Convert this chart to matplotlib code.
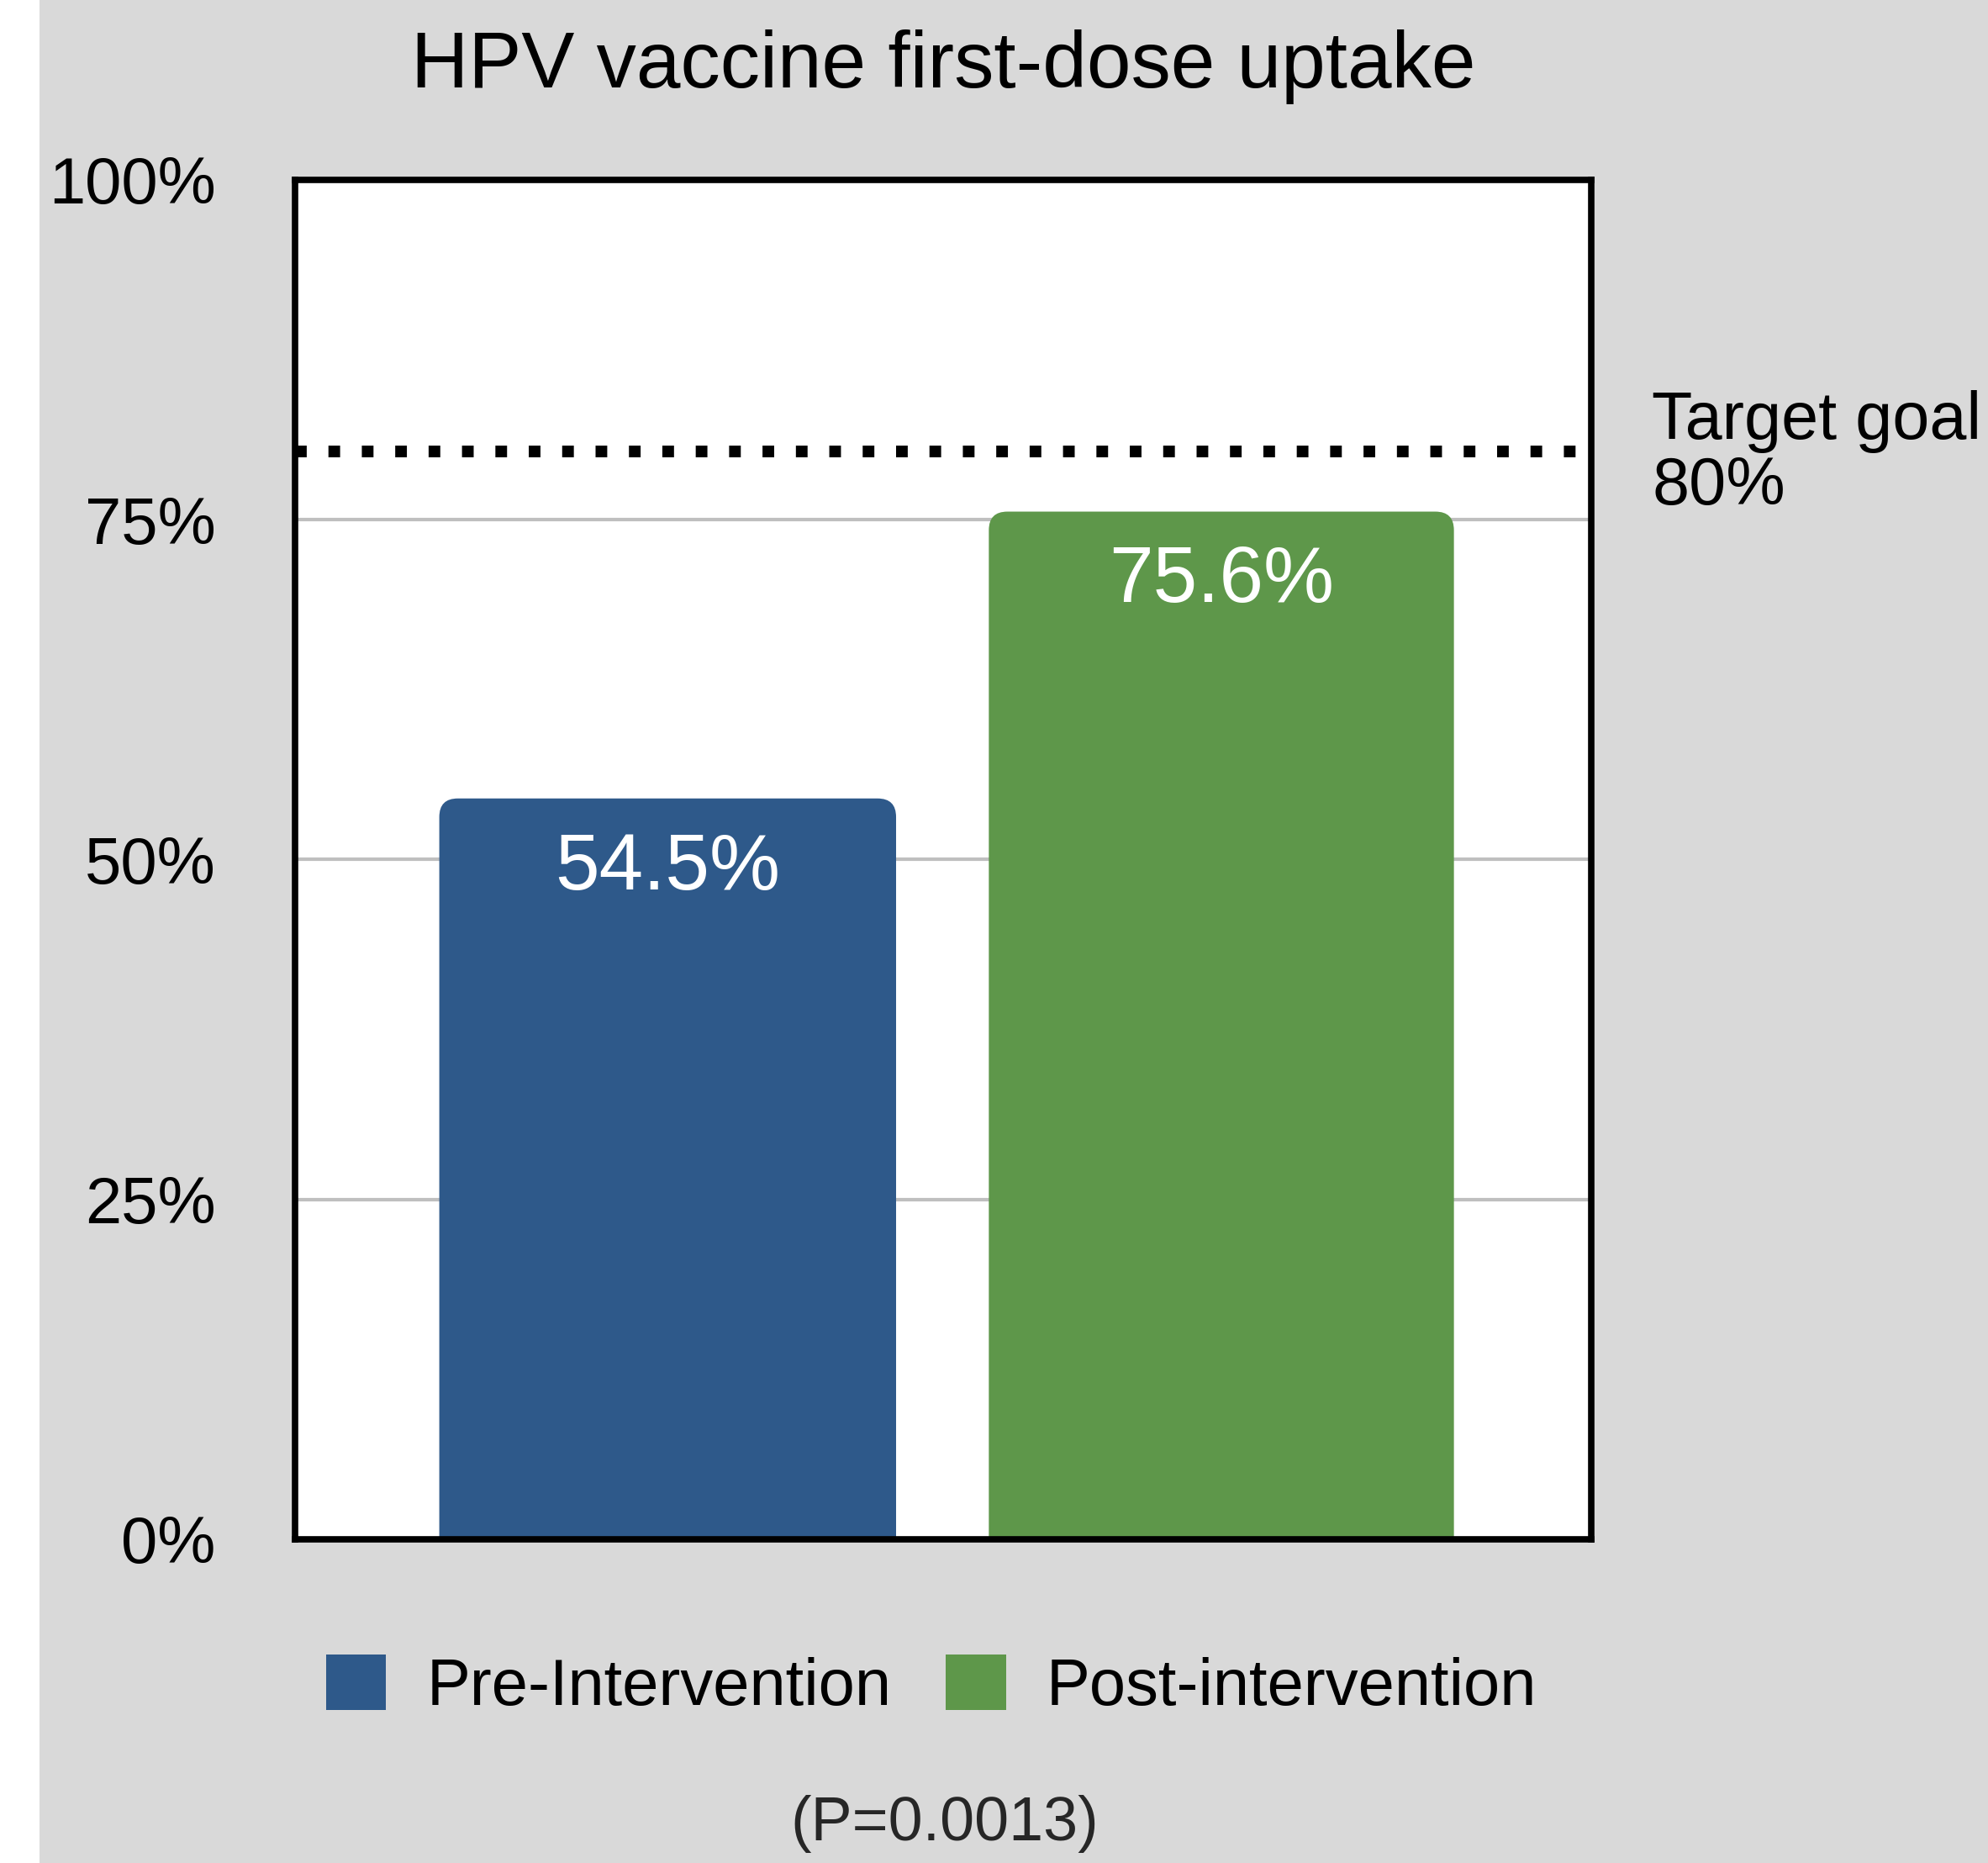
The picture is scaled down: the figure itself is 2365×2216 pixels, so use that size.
import numpy as np
import matplotlib
matplotlib.use("Agg")
import matplotlib.pyplot as plt
from matplotlib.patches import FancyBboxPatch, Patch, Rectangle
import matplotlib.transforms as mtransforms

# data
groups = ["Pre-Intervention", "Post-intervention"]
uptake = [54.5, 75.6]
bar_labels = ["54.5%", "75.6%"]
colors = ["#2E598A", "#5E974A"]
target = 80
y_ticks = [0, 25, 50, 75, 100]
y_ticklabels = ["0%", "25%", "50%", "75%", "100%"]
title = "HPV vaccine first-dose uptake"
p_text = "(P=0.0013)"

plt.rcParams['font.family'] = ['Liberation Sans', 'DejaVu Sans']

W, H = 2365, 2216
fig = plt.figure(figsize=(W / 100, H / 100), dpi=100, facecolor="#D9D9D9")
# white strip on the left edge
fig.patches.append(Rectangle((0, 0), 47 / W, 1, transform=fig.transFigure,
                             facecolor="white", edgecolor="none", zorder=0))

ax = fig.add_axes([351 / W, 385 / H, 1542 / W, 1617 / H])
ax.set_facecolor("white")
xlim = (-0.673, 1.668)
ax.set_xlim(*xlim)
ax.set_ylim(0, 100)

x = np.arange(len(groups))
bw = [0.825, 0.84]
bars = ax.bar(x, uptake, width=bw, color=colors, zorder=2)

# rounded top corners: swap each bar for a rounded box that runs below 0 (clipped)
px_x = 1542 / (xlim[1] - xlim[0])
px_y = 1617 / 100
aspect = px_x / px_y
radius = 22 / px_x
for rect in bars:
    bx, by = rect.get_x(), rect.get_y()
    bwid, bh = rect.get_width(), rect.get_height()
    fb = FancyBboxPatch((bx, by - 10), bwid, bh + 10,
                        boxstyle=f"round,pad=0,rounding_size={radius}",
                        mutation_aspect=aspect,
                        facecolor=rect.get_facecolor(), edgecolor="none", zorder=2)
    ax.add_patch(fb)
    rect.set_visible(False)

for xi, v, lab in zip(x, uptake, bar_labels):
    ax.annotate(lab, xy=(xi, v), xytext=(0, -60), textcoords="offset points",
                ha="center", va="center", color="white", fontsize=68, zorder=3)

# target line
ax.axhline(target, color="black", lw=10, linestyle=(0, (1, 1.86)), zorder=3)
trans = mtransforms.blended_transform_factory(ax.transAxes, ax.transData)
ax.annotate("Target goal\n80%", xy=(1, target), xycoords=trans,
            xytext=(52, -2), textcoords="offset points",
            ha="left", va="center", fontsize=57, linespacing=1.05,
            annotation_clip=False)

ax.set_xticks([])
ax.set_yticks(y_ticks)
ax.set_yticklabels(y_ticklabels)
ax.tick_params(axis="y", length=0, pad=68, labelsize=56)
ax.yaxis.grid(True, color="#BFBFBF", lw=3)
ax.set_axisbelow(True)
for s in ax.spines.values():
    s.set_linewidth(5.5)
    s.set_color("black")
    s.set_zorder(4)

fig.text(1122 / W, 1 - 80 / H, title, ha="center", va="center", fontsize=68)

handles = [Patch(facecolor=c, edgecolor="none") for c in colors]
fig.legend(handles, groups, loc="center", bbox_to_anchor=(1108 / W, 1 - 2006 / H),
           ncol=2, frameon=False, fontsize=56, handlelength=0.92, handleheight=0.93,
           handletextpad=0.62, columnspacing=0.83)

fig.text(1124 / W, 1 - 2169 / H, p_text, ha="center", va="center",
         fontsize=53, color="#262626")

fig.savefig("out.png", dpi=100, facecolor=fig.get_facecolor())
